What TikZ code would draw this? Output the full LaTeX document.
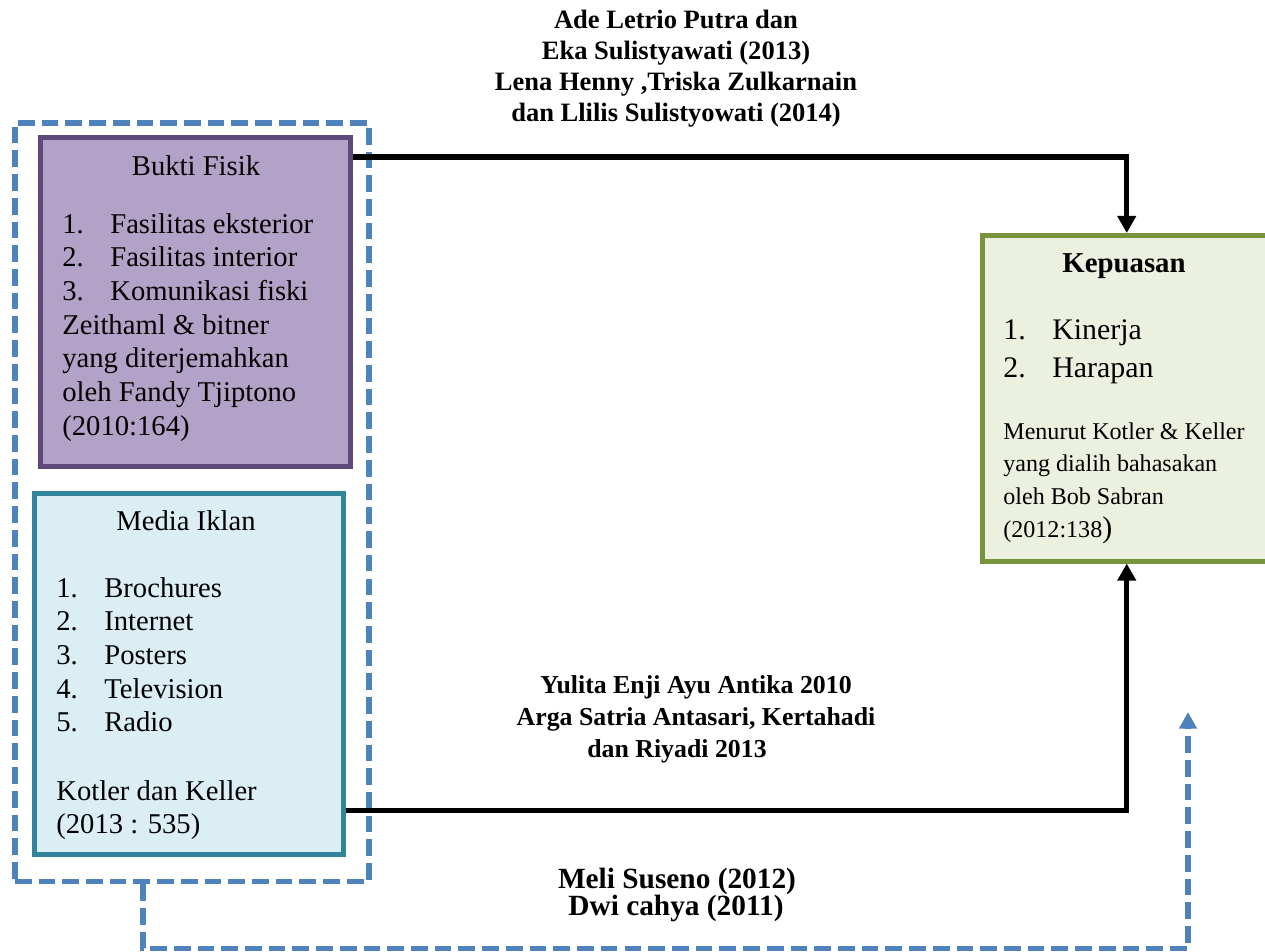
\documentclass[tikz,border=0pt]{standalone}
\usepackage{fontspec}
\setmainfont{Liberation Serif}
\usetikzlibrary{arrows.meta, calc}

\definecolor{unguisi}{HTML}{B3A2C7}
\definecolor{ungutepi}{HTML}{5F497A}
\definecolor{biruisi}{HTML}{DBEEF4}
\definecolor{birutepi}{HTML}{31849B}
\definecolor{hijauisi}{HTML}{EBF1DE}
\definecolor{hijautepi}{HTML}{77933C}
\definecolor{biruputus}{HTML}{4F81BD}

\begin{document}
\begin{tikzpicture}[x=0.02cm, y=-0.02cm, line join=miter,
    kotak/.style={draw, line width=2.6pt, inner sep=0pt, anchor=north west},
    teks/.style={inner sep=0pt, anchor=base west, font=\fontsize{16.3}{19.2}\selectfont},
    judul/.style={teks, anchor=base},
    tebal/.style={inner sep=0pt, anchor=base, font=\fontsize{#1}{18}\selectfont\bfseries},
    panah/.style={line width=3.1pt, -{Triangle[length=9.7pt, width=10.2pt]}},
    panahputus/.style={biruputus, line width=3.2pt, dash pattern=on 9.5pt off 4pt,
        -{Triangle[length=9.5pt, width=9.8pt]}}]
    \useasboundingbox (0,0) rectangle (1265,951);

    % ---------------------------------------------------
    % kotak variabel
    % ---------------------------------------------------
    \node[kotak, biruputus, line width=3.2pt, dash pattern=on 9.5pt off 4pt,
        minimum width=7.08cm, minimum height=15.18cm] (grup) at (12,120) {};
    \node[kotak, ungutepi, fill=unguisi, minimum width=6.2cm, minimum height=6.58cm] (fisik) at (38,135) {};
    \node[kotak, birutepi, fill=biruisi, minimum width=6.18cm, minimum height=7.22cm] (iklan) at (32,491) {};
    \node[kotak, hijautepi, fill=hijauisi, minimum width=5.9cm, minimum height=6.52cm] (puas) at (980,233) {};

    % isi kotak Bukti Fisik
    \node[judul] (fisikjudul) at (196,175) {Bukti Fisik};
    \foreach \t [count=\i] in {Fasilitas eksterior, Fasilitas interior, Komunikasi fiski} {
        \node[teks] (fisiknomor\i) at (62,{233+33.7*(\i-1)}) {\i.};
        \node[teks] (fisikbutir\i) at (110,{233+33.7*(\i-1)}) {\t};
    }
    \foreach \t [count=\i] in {Zeithaml \& bitner, yang diterjemahkan, oleh Fandy Tjiptono, (2010:164)}
        \node[teks] (fisiksumber\i) at (62,{334+33.7*(\i-1)}) {\t};

    % isi kotak Media Iklan
    \node[judul] (iklanjudul) at (186,530) {Media Iklan};
    \foreach \t [count=\i] in {Brochures, Internet, Posters, Television, Radio} {
        \node[teks] (iklannomor\i) at (56,{597+33.7*(\i-1)}) {\i.};
        \node[teks] (iklanbutir\i) at (104,{597+33.7*(\i-1)}) {\t};
    }
    \node[teks] (iklansumber1) at (56,800) {Kotler dan Keller};
    \node[teks] (iklansumber2) at (56,833) {(2013 : 535)};

    % isi kotak Kepuasan
    \node[tebal=16.4] (puasjudul) at (1124,272) {Kepuasan};
    \foreach \t [count=\i] in {Kinerja, Harapan} {
        \node[teks, font=\fontsize{17}{21}\selectfont] (puasnomor\i) at (1003,{339+38*(\i-1)}) {\i.};
        \node[teks, font=\fontsize{17}{21}\selectfont] (puasbutir\i) at (1052,{339+38*(\i-1)}) {\t};
    }
    \foreach \t [count=\i] in {Menurut Kotler \& Keller, yang dialih bahasakan, oleh Bob Sabran}
        \node[teks, font=\fontsize{13.7}{17}\selectfont] (puassumber\i) at (1003,{439+32.7*(\i-1)}) {\t};
    \node[teks, font=\fontsize{13.7}{17}\selectfont] (puassumber4) at (1003,537)
        {(2012:138{\fontsize{17}{21}\selectfont)}};

    % ---------------------------------------------------
    % penghubung
    % ---------------------------------------------------
    \draw[panah] ([yshift=-0.44cm]fisik.north east) -| ([xshift=-0.06cm]puas.north);
    \draw[panah] ([yshift=0.92cm]iklan.south east) -| ([xshift=-0.06cm]puas.south);
    \coordinate (ujungputus) at (1188,712);
    \draw[panahputus] ([xshift=2.62cm]grup.south west) -- ++(0,64) -| (ujungputus);

    % label sumber penelitian
    \foreach \t [count=\i] in {Ade Letrio Putra dan, Eka Sulistyawati (2013),
        {Lena Henny ,Triska Zulkarnain}, dan Llilis Sulistyowati (2014)}
        \node[tebal=15.1] (atas\i) at (676,{28+31.3*(\i-1)}) {\t};
    \node[tebal=14.7] (tengah1) at (696,693) {Yulita Enji Ayu Antika 2010};
    \node[tebal=14.7] (tengah2) at (696,725) {Arga Satria Antasari, Kertahadi};
    \node[tebal=14.7] (tengah3) at (677,757) {dan Riyadi 2013};
    \node[tebal=16.7] (bawah1) at (677,888) {Meli Suseno (2012)};
    \node[tebal=16.7] (bawah2) at (676,915) {Dwi cahya (2011)};
\end{tikzpicture}
\end{document}
